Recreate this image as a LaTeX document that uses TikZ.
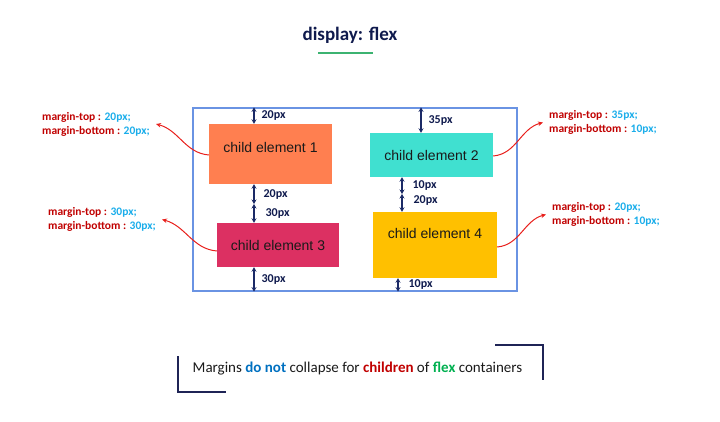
\documentclass[tikz,border=0pt]{standalone}
\usepackage{fontspec}
\setmainfont{Carlito}
\newfontfamily\arialfont{Liberation Sans}
\usepackage{xcolor}
\usetikzlibrary{shapes}
\usetikzlibrary{positioning}
\usetikzlibrary{arrows.meta}

\definecolor{titlenavy}{HTML}{0F1A4D}
\definecolor{navyline}{HTML}{1B2A66}
\definecolor{childcoral}{HTML}{FF7F50}
\definecolor{childcrimson}{HTML}{DC3062}
\definecolor{childturquoise}{HTML}{40E0D0}
\definecolor{childamber}{HTML}{FFC000}
\definecolor{containerblue}{HTML}{6A93E3}
\definecolor{marginred}{HTML}{C00000}
\definecolor{pxblue}{HTML}{1AADEA}
\definecolor{arrowred}{HTML}{E8201C}
\definecolor{rulegreen}{HTML}{3CB371}
\definecolor{doblue}{HTML}{0070C0}
\definecolor{flexgreen}{HTML}{00B050}
\definecolor{captiontext}{HTML}{1A1A1A}
\definecolor{bracketnavy}{HTML}{1F2456}

\newcommand{\marginpair}[2]{\textcolor{marginred}{margin-top :} \textcolor{pxblue}{#1}\\\textcolor{marginred}{margin-bottom :} \textcolor{pxblue}{#2}}

\begin{document}
\begin{tikzpicture}[x=1pt, y=-1pt,
    child_box/.style={rectangle, draw=none, inner sep=0pt},
    child_text/.style={font=\arialfont\fontsize{14}{16}\selectfont, text=captiontext},
    gap_arrow/.style={{Stealth[length=4.5pt,width=5pt]}-{Stealth[length=4.5pt,width=5pt]}, draw=navyline, line width=1.3pt},
    gap_label/.style={font=\bfseries\fontsize{12}{14}\selectfont, text=titlenavy, anchor=west, inner sep=0pt},
    margin_label/.style={font=\bfseries\fontsize{11.5}{14}\selectfont, align=left, inner xsep=6pt, inner ysep=0pt},
    margin_arrow/.style={-{Stealth[length=5pt,width=4.5pt]}, draw=arrowred, line width=1pt},
    bracket/.style={draw=bracketnavy, line width=1.2pt}]

    \useasboundingbox (0,0) rectangle (720,422);

    \node (title) [font=\bfseries\fontsize{19}{22}\selectfont, text=titlenavy] at (350,35) {display: flex};
    \coordinate (rule_left) at (318,53);
    \coordinate (rule_right) at (373,53);
    \draw [draw=rulegreen, line width=2pt] (rule_left) -- (rule_right);

    \node (container) [draw=containerblue, line width=1.2pt, minimum width=324pt, minimum height=183pt, inner sep=0pt] at (355,199.5) {};

    \node (child_1) [child_box, fill=childcoral, minimum width=123pt, minimum height=60pt,
        label={[child_text, yshift=7pt]center:child element 1}] at (270.5,154) {};
    \node (child_3) [child_box, fill=childcrimson, minimum width=122pt, minimum height=44pt,
        label={[child_text]center:child element 3}] at (278,245) {};
    \node (child_2) [child_box, fill=childturquoise, minimum width=123pt, minimum height=44pt,
        label={[child_text]center:child element 2}] at (431.5,155) {};
    \node (child_4) [child_box, fill=childamber, minimum width=124pt, minimum height=66pt,
        label={[child_text, yshift=12pt]center:child element 4}] at (435,245) {};

    \coordinate (gap_left) at (254,0);
    \coordinate (gap_right_top) at (421,0);
    \coordinate (gap_right) at (402,0);
    \coordinate (gap_right_bottom) at (398,0);
    \coordinate (split_13) at (254,204);
    \coordinate (split_24) at (402,194);

    \draw [gap_arrow] (gap_left |- container.north) -- (gap_left |- child_1.north)
        node (gap_1_top) [gap_label, midway, xshift=7pt] {20px};
    \draw [gap_arrow] (gap_left |- child_1.south) -- (split_13)
        node (gap_1_bottom) [gap_label, midway, xshift=9pt] {20px};
    \draw [gap_arrow] (split_13) -- (gap_left |- child_3.north)
        node (gap_3_top) [gap_label, midway, xshift=11pt] {30px};
    \draw [gap_arrow] (gap_left |- child_3.south) -- (gap_left |- container.south)
        node (gap_3_bottom) [gap_label, midway, xshift=7pt] {30px};

    \draw [gap_arrow] (gap_right_top |- container.north) -- (gap_right_top |- child_2.north)
        node (gap_2_top) [gap_label, midway, xshift=7pt] {35px};
    \draw [gap_arrow] (gap_right |- child_2.south) -- (split_24)
        node (gap_2_bottom) [gap_label, midway, xshift=10pt] {10px};
    \draw [gap_arrow] (split_24) -- (gap_right |- child_4.north)
        node (gap_4_top) [gap_label, midway, xshift=11pt, yshift=2pt] {20px};
    \draw [gap_arrow] (gap_right_bottom |- child_4.south) -- (gap_right_bottom |- container.south)
        node (gap_4_bottom) [gap_label, midway, xshift=10pt] {10px};

    \node (label_1) [margin_label, anchor=west] at (36,124) {\marginpair{20px;}{20px;}};
    \node (label_3) [margin_label, anchor=west] at (42,219.5) {\marginpair{30px;}{30px;}};
    \node (label_2) [margin_label, anchor=west] at (543,122.5) {\marginpair{35px;}{10px;}};
    \node (label_4) [margin_label, anchor=west] at (546,214.5) {\marginpair{20px;}{10px;}};

    \draw [margin_arrow] ([yshift=-1pt]child_1.west) to[out=175, in=-15] (label_1.east);
    \draw [margin_arrow] ([yshift=-6pt]child_3.west) to[out=175, in=-15] (label_3.east);
    \draw [margin_arrow] ([yshift=-1pt]child_2.east) to[out=5, in=195] (label_2.west);
    \draw [margin_arrow] ([yshift=-2pt]child_4.east) to[out=5, in=195] (label_4.west);

    \node (caption) [font=\fontsize{15}{18}\selectfont, text=captiontext] at (357.5,369)
        {Margins \textbf{\textcolor{doblue}{do not}} collapse for \textbf{\textcolor{marginred}{children}} of \textbf{\textcolor{flexgreen}{flex}} containers};

    \coordinate (bracket_left_top) at (178,356);
    \coordinate (bracket_left_corner) at (178,392);
    \coordinate (bracket_left_end) at (226,392);
    \coordinate (bracket_right_start) at (495,345);
    \coordinate (bracket_right_corner) at (543,345);
    \coordinate (bracket_right_bottom) at (543,380);
    \draw [bracket] (bracket_left_top) -- (bracket_left_corner) -- (bracket_left_end);
    \draw [bracket] (bracket_right_start) -- (bracket_right_corner) -- (bracket_right_bottom);

\end{tikzpicture}
\end{document}
